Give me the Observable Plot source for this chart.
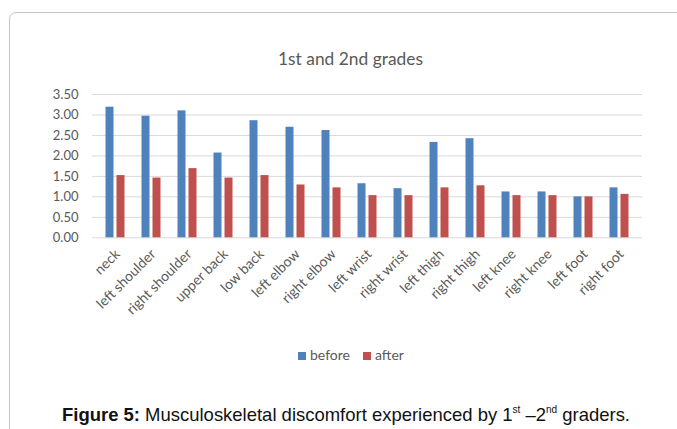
<!DOCTYPE html>
<html>
<head>
<meta charset="utf-8">
<script src="https://cdn.jsdelivr.net/npm/d3@7"></script>
<script src="https://cdn.jsdelivr.net/npm/@observablehq/plot@0.6"></script>
<style>
  html, body { margin: 0; padding: 0; background: #fff; }
  #wrap { position: relative; width: 677px; height: 429px; overflow: hidden; background: #fff; }
  #frame { position: absolute; left: 9px; top: 12px; width: 720px; height: 520px; border: 1px solid #c4c4c4; border-radius: 7px; box-sizing: border-box; }
  #title { position: absolute; top: 48px; font-family: Lato, "Open Sans", sans-serif; font-size: 17px; color: #595959; white-space: nowrap; transform-origin: left center; }
  #chart { position: absolute; left: 0; top: 0; }
  #legend { position: absolute; top: 346px; left: 298px; font-family: Lato, sans-serif; font-size: 14px; color: #595959; white-space: nowrap; }
  #legend .sw { display: inline-block; width: 8px; height: 8px; margin-right: 4px; vertical-align: 0px; }
  #legend .item { margin-right: 13px; }
  #caption { position: absolute; top: 404px; font-family: "Liberation Sans", Arial, sans-serif; font-size: 18.5px; color: #111; white-space: nowrap; transform-origin: left center; }
  #caption sup { font-size: 10px; vertical-align: 8px; line-height: 0; }
</style>
</head>
<body>
<div id="wrap">
  <div id="frame"></div>
  <div id="title">1st and 2nd grades</div>
  <div id="chart"></div>
  <div id="legend"></div>
  <div id="caption"><b>Figure 5:</b> Musculoskeletal discomfort experienced by 1<sup>st</sup> –2<sup>nd</sup> graders.</div>
</div>
<script>
const parts = ["neck", "left shoulder", "right shoulder", "upper back", "low back", "left elbow", "right elbow", "left wrist", "right wrist", "left thigh", "right thigh", "left knee", "right knee", "left foot", "right foot"];
const before = [3.19, 2.97, 3.10, 2.07, 2.86, 2.70, 2.62, 1.32, 1.20, 2.33, 2.42, 1.12, 1.12, 1.00, 1.22];
const after = [1.52, 1.46, 1.69, 1.46, 1.52, 1.29, 1.22, 1.03, 1.03, 1.22, 1.27, 1.03, 1.03, 1.00, 1.06];
const seriesNames = ["before", "after"];
const seriesColors = ["#4f81bd", "#c0504d"];
const yTicks = [0, 0.5, 1, 1.5, 2, 2.5, 3, 3.5];

const beforeData = parts.map((p, i) => ({part: p, series: "before", value: before[i]}));
const afterData = parts.map((p, i) => ({part: p, series: "after", value: after[i]}));

const chart = Plot.plot({
  width: 677,
  height: 340,
  marginTop: 94,
  marginBottom: 102.7,
  marginLeft: 92,
  marginRight: 35,
  style: {fontFamily: "Lato, sans-serif", fontSize: "13px", color: "#595959", background: "transparent"},
  x: {domain: parts, paddingInner: 0.78, paddingOuter: 0.39, label: null},
  y: {domain: [0, 3.5], label: null},
  color: {domain: seriesNames, range: seriesColors},
  marks: [
    Plot.gridY(yTicks, {stroke: "#d9d9d9", strokeOpacity: 1, strokeWidth: 1}),
    Plot.axisY(yTicks, {tickSize: 0, tickPadding: 14, tickFormat: d3.format(".2f"), label: null}),
    Plot.axisX({tickRotate: -45, tickSize: 0, tickPadding: 14, dx: 2, fontSize: 14, label: null}),
    Plot.barY(beforeData, {x: "part", y: "value", fill: "series", dx: -5.5}),
    Plot.barY(afterData, {x: "part", y: "value", fill: "series", dx: 5.5})
  ]
});
document.getElementById("chart").appendChild(chart);

const legend = document.getElementById("legend");
seriesNames.forEach((s, i) => {
  const item = document.createElement("span");
  item.className = "item";
  const sw = document.createElement("span");
  sw.className = "sw";
  sw.style.background = seriesColors[i];
  item.appendChild(sw);
  item.appendChild(document.createTextNode(s));
  legend.appendChild(item);
});

function fit(el, left, target) {
  const w = el.getBoundingClientRect().width;
  el.style.left = left + "px";
  el.style.transform = `scaleX(${target / w})`;
}
fit(document.getElementById("title"), 278, 145);
fit(document.getElementById("caption"), 62, 568);
</script>
</body>
</html>
